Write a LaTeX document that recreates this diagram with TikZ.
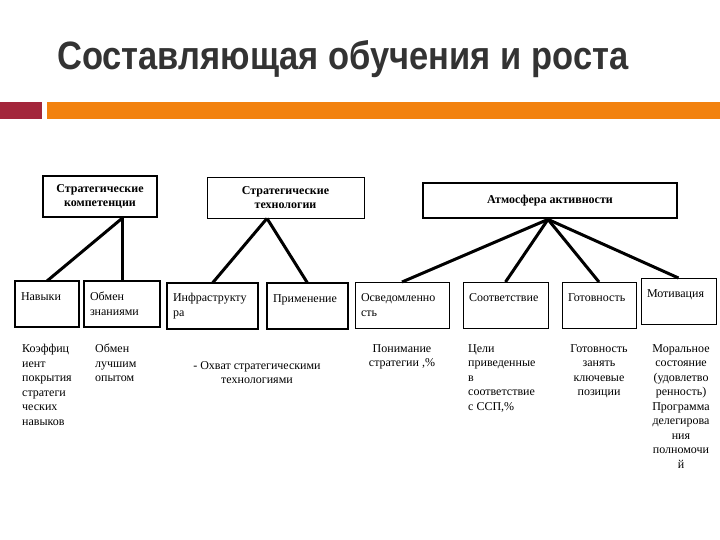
\documentclass[tikz,border=0pt]{standalone}
\usepackage{fontspec}
\setmainfont{Liberation Serif}
\newfontfamily\titlefont{Liberation Sans}
\usetikzlibrary{positioning}

\definecolor{titlegrey}{HTML}{333333}
\definecolor{barred}{HTML}{A3263B}
\definecolor{barorange}{HTML}{F2820F}

\newcommand{\boxfont}{\fontsize{12}{14.5}\selectfont}

\tikzset{
    heavy/.style={draw, line width=2.8pt},
    light/.style={draw, line width=0.8pt},
    headbox/.style={align=center, font=\boxfont\bfseries, inner sep=0pt},
    cell/.style={align=left, font=\boxfont, text width=#1, inner xsep=6pt, inner ysep=0pt,
        outer sep=0pt, minimum height=46pt},
    note/.style={font=\boxfont, inner sep=0pt},
    link/.style={line width=3pt}
}

\begin{document}
\begin{tikzpicture}[x=1pt, y=-1pt]
    \useasboundingbox (0,0) rectangle (720,540);

    % заголовок слайда
    \node[anchor=base west, text=titlegrey, inner sep=0pt] (title) at (57,70)
        {\resizebox{571pt}{29pt}{\titlefont\bfseries Составляющая обучения и роста}};
    \fill[barred] (0,102) rectangle (42,119);
    \fill[barorange] (47,102) rectangle (720,119);

    % верхний уровень
    \node[headbox, heavy, minimum width=114pt, minimum height=41pt] (komp) at (100,196.5)
        {Стратегические\\компетенции};
    \node[headbox, light, minimum width=157pt, minimum height=41pt] (tech) at (285.5,197.5)
        {Стратегические\\технологии};
    \node[headbox, heavy, minimum width=254pt, minimum height=35pt] (atm) at (550,200.5)
        {Атмосфера активности};

    % нижний уровень
    \node[cell=52pt, heavy, anchor=north west] (skills) at (15,281) {Навыки\\~};
    \node[cell=64pt, heavy, right=5pt of skills] (knowx) {Обмен\\знаниями};
    \node[cell=79pt, heavy, right=7pt of knowx, yshift=-2pt] (infra) {Инфраструкту\\ра};
    \node[cell=69pt, heavy, right=9pt of infra] (usage) {Применение\\~};
    \node[cell=82pt, light, right=7pt of usage, yshift=1pt] (aware) {Осведомленно\\сть};
    \node[cell=73pt, light, right=14pt of aware] (fit) {Соответствие\\~};
    \node[cell=62pt, light, right=14pt of fit] (ready) {Готовность\\~};
    \node[cell=63pt, light, right=5pt of ready, yshift=4pt] (motiv) {Мотивация\\~};

    % связи
    \coordinate (kompB) at ([xshift=22pt]komp.south);
    \coordinate (techB) at ([xshift=-18.5pt]tech.south);
    \coordinate (atmB) at ([xshift=-2pt]atm.south);
    \draw[link] (kompB) -- (skills.north);
    \draw[link] (kompB) -- (knowx.north);
    \draw[link] (techB) -- (infra.north);
    \draw[link] (techB) -- (usage.north);
    \foreach \n in {aware, fit, ready, motiv}
        \draw[link] (atmB) -- (\n.north);

    % показатели
    \node[note, align=left, anchor=north west] (covk) at (22,344)
        {Коэффиц\\иент\\покрытия\\стратеги\\ческих\\навыков};
    \node[note, align=left, anchor=north west] (bestp) at (95,344)
        {Обмен\\лучшим\\опытом};
    \node[note, align=center, anchor=north] (techcov) at (257,361)
        {- Охват стратегическими\\технологиями};
    \node[note, align=center, anchor=north] (understand) at (402,344)
        {Понимание\\стратегии ,\%};
    \node[note, align=left, anchor=north west] (goals) at (468,344)
        {Цели\\приведенные\\в\\соответствие\\с ССП,\%};
    \node[note, align=center, anchor=north] (readypos) at (599,344)
        {Готовность\\занять\\ключевые\\позиции};
    \node[note, align=center, anchor=north] (morale) at (681,344)
        {Моральное\\состояние\\(удовлетво\\ренность)\\Программа\\делегирова\\ния\\полномочи\\й};
\end{tikzpicture}
\end{document}
